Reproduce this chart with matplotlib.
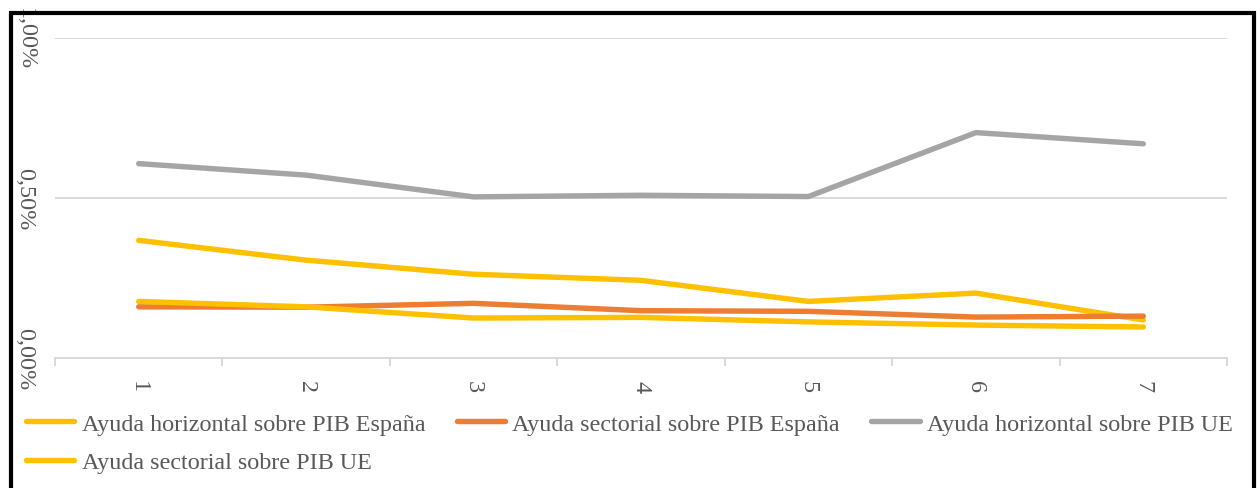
import matplotlib
matplotlib.use('Agg')
import matplotlib.pyplot as plt
from matplotlib.patches import Rectangle
from matplotlib.ticker import FuncFormatter, FixedLocator

# values, in percent of GDP
periods = [1, 2, 3, 4, 5, 6, 7]
horiz_es = [0.368, 0.306, 0.262, 0.243, 0.177, 0.203, 0.119]
sect_es = [0.160, 0.159, 0.171, 0.148, 0.146, 0.128, 0.131]
horiz_ue = [0.608, 0.572, 0.504, 0.509, 0.505, 0.705, 0.670]
sect_ue = [0.177, 0.160, 0.125, 0.127, 0.113, 0.103, 0.097]

labels = ['Ayuda horizontal sobre PIB España', 'Ayuda sectorial sobre PIB España',
          'Ayuda horizontal sobre PIB UE', 'Ayuda sectorial sobre PIB UE']
colors = ['#FFC000', '#ED7D31', '#A5A5A5', '#FFC000']
y_ticks = [0.0, 0.5, 1.0]

plt.rcParams['font.family'] = ['Liberation Serif', 'DejaVu Serif']
txt_col = '#595959'
grid_col = '#D9D9D9'
fs = 17.4

fig = plt.figure(figsize=(12.57, 4.89), dpi=100)
ax = fig.add_axes([55/1257, 1-359/489, 1172/1257, 319.7/489])

series = [horiz_es, sect_es, horiz_ue, sect_ue]
handles = []
for vals, col, lab in zip(series, colors, labels):
    h, = ax.plot(periods, vals, color=col, lw=3.9, solid_capstyle='round',
                 solid_joinstyle='round', label=lab, zorder=3)
    handles.append(h)

ax.set_xlim(0.5, 7.5)
ax.set_ylim(0, 1.0)
ax.set_yticks(y_ticks)
ax.yaxis.set_major_formatter(FuncFormatter(lambda v, p: f'{v:.2f}%'.replace('.', ',')))
ax.yaxis.grid(True, color=grid_col, lw=1.4, zorder=0)
ax.set_axisbelow(True)
for s in ['left', 'right', 'top']:
    ax.spines[s].set_visible(False)
ax.spines['bottom'].set_color(grid_col)
ax.spines['bottom'].set_linewidth(1.4)

ax.set_xticks(periods)
ax.xaxis.set_minor_locator(FixedLocator([i + 0.5 for i in range(0, 8)]))
ax.tick_params(axis='x', which='major', length=0, pad=20, labelsize=fs, labelcolor=txt_col)
ax.tick_params(axis='x', which='minor', length=6, width=1.4, color=grid_col, direction='out')
ax.tick_params(axis='y', length=0, pad=14, labelsize=fs, labelcolor=txt_col)
for t in ax.get_xticklabels():
    t.set_rotation(270)
    t.set_va('center')
    t.set_ha('center')
for t in ax.get_yticklabels():
    t.set_rotation(270)
    t.set_va('center')

# legend: three entries on the first row, the fourth below
order = [0, 3, 1, 2]
leg = fig.legend([handles[i] for i in order], [labels[i] for i in order], ncol=3,
                 loc='upper left', bbox_to_anchor=(26/1257, 1-414/489), frameon=False,
                 fontsize=fs, handlelength=2.0, handletextpad=0.3, columnspacing=1.3,
                 labelspacing=0.68, borderaxespad=0, borderpad=0)
for t in leg.get_texts():
    t.set_color(txt_col)

# black frame round the chart, open at the bottom edge of the image
fig.patches.append(Rectangle((11/1257, -0.1), 1243/1257, 1.1 - 13.5/489, transform=fig.transFigure,
                             fill=False, edgecolor='black', lw=3, clip_on=False))

fig.savefig('out.png', dpi=100)
